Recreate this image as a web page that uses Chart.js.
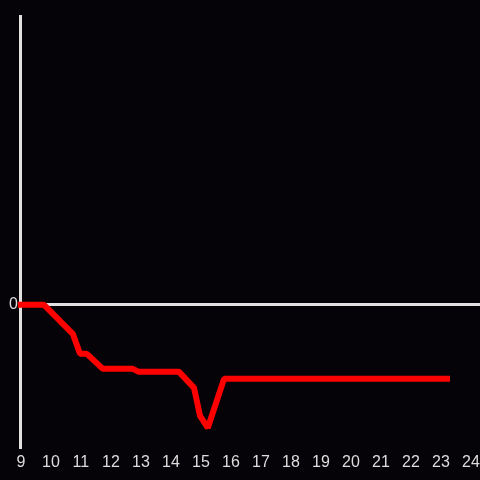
<!DOCTYPE html>
<html><head><meta charset="utf-8">
<script src="https://cdn.jsdelivr.net/npm/chart.js@4/dist/chart.umd.min.js"></script>
<style>html,body{margin:0;padding:0;background:#050307;}#wrap{width:480px;height:480px;}</style>
</head><body><div id="wrap"><canvas id="c" width="480" height="480"></canvas></div>
<script>
const hours = [9, 9.77, 10.73, 10.97, 11.2, 11.73, 12.73, 12.93, 14.27, 14.77, 14.97, 15.23, 15.77, 23.2];
const values = [0, 0, -0.29, -0.49, -0.49, -0.64, -0.64, -0.67, -0.67, -0.83, -1.11, -1.23, -0.74, -0.74];
const xTicks = [9,10,11,12,13,14,15,16,17,18,19,20,21,22,23,24];
const yTicks = [0];
const yMin = -1.43, yMax = 2.89, xMin = 9, xMax = 24.3;

const pts = hours.map((h,i)=>({x:h,y:values[i]}));
new Chart(document.getElementById('c'), {
  type:'line',
  data:{datasets:[{data:pts,borderColor:'#ff0000',borderWidth:6,pointRadius:0,tension:0,borderJoinStyle:'bevel',borderCapStyle:'square',fill:false,clip:4}]},
  options:{
    responsive:false,animation:false,
    layout:{padding:{left:6,top:16,right:0,bottom:3}},
    plugins:{legend:{display:false},tooltip:{enabled:false}},
    scales:{
      x:{type:'linear',min:xMin,max:xMax,
        afterBuildTicks:(s)=>{s.ticks=xTicks.map(v=>({value:v}));},
        afterFit:(s)=>{s.paddingRight=0;},
        grid:{display:false,drawTicks:false},border:{display:false},
        ticks:{color:'#dddddd',font:{family:'Liberation Sans',size:16},padding:5,maxRotation:0,autoSkip:false}},
      y:{type:'linear',min:yMin,max:yMax,
        afterBuildTicks:(s)=>{s.ticks=yTicks.map(v=>({value:v}));},
        grid:{drawTicks:false,color:(c)=>c.tick&&c.tick.value===0?'#e0e0e0':'transparent',lineWidth:3},
        border:{display:true,color:'#e0e0e0',width:3},
        ticks:{color:'#dddddd',font:{family:'Liberation Sans',size:16},padding:3}}
    }
  }
});
</script></body></html>
